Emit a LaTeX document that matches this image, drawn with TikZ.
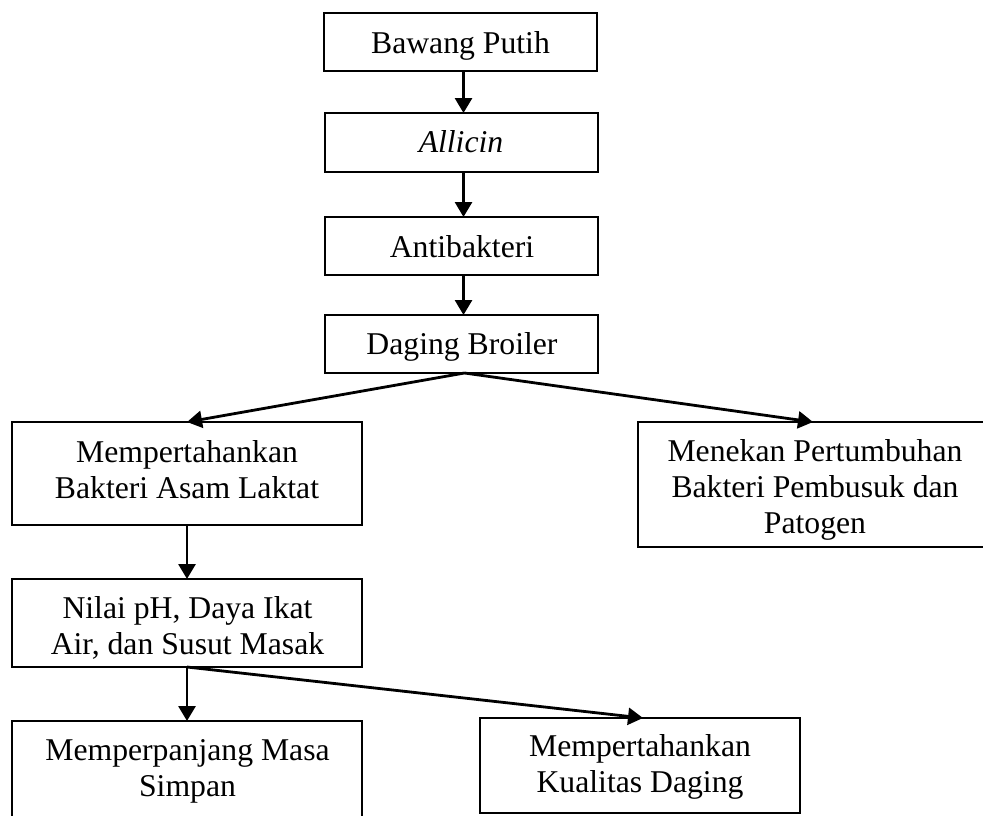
\documentclass[tikz,border=0pt]{standalone}
\usepackage{fontspec}
\setmainfont{Liberation Serif}
\usetikzlibrary{arrows.meta}
\tikzset{
  box/.style={draw, line width=0.75pt, inner sep=0pt, outer sep=0pt},
  txt/.style={font=\fontsize{15.85}{18}\selectfont, align=center, inner sep=0pt, outer sep=0pt},
  arr/.style={line width=1.4pt, -{Triangle[length=7.5pt,width=8.5pt]}}
}
\begin{document}
\begin{tikzpicture}[x=0.5pt,y=-0.5pt]
\useasboundingbox (0,0) rectangle (983,815);
\clip (0,0) rectangle (983,815);
% boxes
\node[box, minimum width=136.5pt, minimum height=29pt] (b1) at (460.5,42) {};
\node[box, minimum width=136.5pt, minimum height=29.5pt] (b2) at (461.5,142.5) {};
\node[box, minimum width=136.5pt, minimum height=29pt] (b3) at (461.5,246) {};
\node[box, minimum width=136.5pt, minimum height=29pt] (b4) at (461.5,344) {};
\node[box, minimum width=175pt, minimum height=51.5pt] (b5) at (187,473.5) {};
\node[box, minimum width=177pt, minimum height=62.5pt] (b6) at (815,484.5) {};
\node[box, minimum width=175pt, minimum height=44pt] (b7) at (187,623) {};
\node[box, minimum width=175pt, minimum height=54.5pt] (b8) at (187,775.5) {};
\node[box, minimum width=160pt, minimum height=47.5pt] (b9) at (640,765.5) {};
% texts
\node[txt] (t1) at (460.5,45.8) {\strut Bawang Putih};
\node[txt] (t2) at (461,144.8) {\strut\itshape Allicin};
\node[txt] (t3) at (462,249.8) {\strut Antibakteri};
\node[txt] (t4) at (462,346.8) {\strut Daging Broiler};
\node[txt] (t5) at (187,472.8) {\strut Mempertahankan\\\strut Bakteri Asam Laktat};
\node[txt] (t6) at (815,489.8) {\strut Menekan Pertumbuhan\\\strut Bakteri Pembusuk dan\\\strut Patogen};
\node[txt] (t7) at (187.5,629.1) {\strut Nilai pH, Daya Ikat\\\strut Air, dan Susut Masak};
\node[txt] (t8) at (187.5,770.8) {\strut Memperpanjang Masa\\\strut Simpan};
\node[txt] (t9) at (640,767.5) {\strut Mempertahankan\\\strut Kualitas Daging};
% connectors
\draw[arr] ([xshift=1.5pt]b1.south) -- ([xshift=1pt]b2.north);
\draw[arr] ([xshift=1pt]b2.south) -- ([xshift=1pt]b3.north);
\draw[arr] ([xshift=1pt]b3.south) -- ([xshift=1pt]b4.north);
\draw[arr] ([xshift=1.5pt]b4.south) -- (b5.north);
\draw[arr] ([xshift=1.5pt]b4.south) -- ([xshift=-1pt]b6.north);
\draw[arr] (b5.south) -- (b7.north);
\draw[arr] (b7.south) -- (b8.north);
\draw[arr] (b7.south) -- ([xshift=1.5pt]b9.north);
\end{tikzpicture}
\end{document}
